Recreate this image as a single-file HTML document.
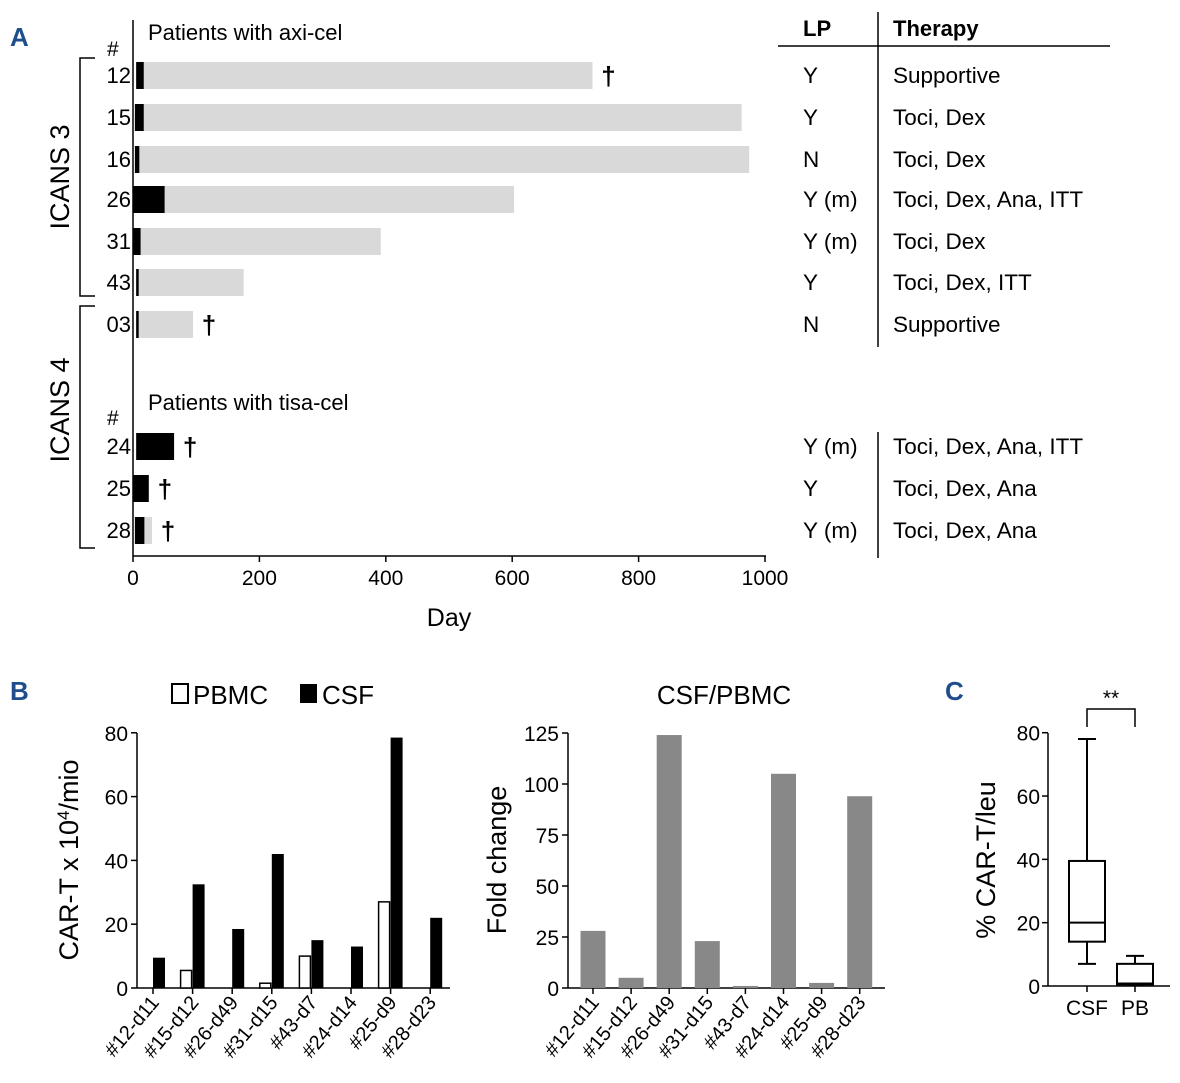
<!DOCTYPE html>
<html><head><meta charset="utf-8"><style>
body{margin:0;background:#fff}
svg{display:block;font-family:"Liberation Sans",sans-serif}
</style></head><body>
<svg id="s" width="1180" height="1083" viewBox="0 0 1180 1083">
<text x="10" y="46" font-size="26" font-weight="bold" fill="#1f4e8c">A</text>
<text x="10" y="700" font-size="26" font-weight="bold" fill="#1f4e8c">B</text>
<text x="945" y="700" font-size="26" font-weight="bold" fill="#1f4e8c">C</text>
<g id="A"></g>
<g id="B1"></g>
<g id="B2"></g>
<g id="C"></g>
</svg>
<script>
// Panel A data
const patients=["12","15","16","26","31","43","03","24","25","28"];
const blackStart=[5,3,3,0,0,5,5,5,0,3];
const blackEnd=[17,17,10,50,12,9,9,65,25,18];
const grayEnd=[727,963,975,603,392,175,95,0,0,30];
const died=[1,0,0,0,0,0,1,1,1,1];
const lpVals=["Y","Y","N","Y (m)","Y (m)","Y","N","Y (m)","Y","Y (m)"];
const therapy=["Supportive","Toci, Dex","Toci, Dex","Toci, Dex, Ana, ITT","Toci, Dex","Toci, Dex, ITT","Supportive","Toci, Dex, Ana, ITT","Toci, Dex, Ana","Toci, Dex, Ana"];
const xTicksA=[0,200,400,600,800,1000];
// Panel B data
const samples=["#12-d11","#15-d12","#26-d49","#31-d15","#43-d7","#24-d14","#25-d9","#28-d23"];
const pbmc=[0,5.5,0,1.5,10,0,27,0];
const csf=[9.5,32.5,18.5,42,15,13,78.5,22];
const foldChange=[28,5,124,23,1,105,2.5,94];
const yTicksB1=[0,20,40,60,80];
const yTicksB2=[0,25,50,75,100,125];
// Panel C data
const boxGroups=["CSF","PB"];
const boxMin=[7,0.5],boxQ1=[14,0.5],boxMed=[20,0.8],boxQ3=[39.5,7],boxMax=[78,9.5];
const yTicksC=[0,20,40,60,80];

const NS="http://www.w3.org/2000/svg";
function mk(p,tag,at,txt){const e=document.createElementNS(NS,tag);for(const k in at)e.setAttribute(k,at[k]);if(txt!==undefined)e.textContent=txt;p.appendChild(e);return e;}

// ---- Panel A
const A=document.getElementById('A');
const ax=v=>133+v*0.632;
const rowY=[75,117,159,199,241,282,324,446,488,530];
mk(A,'line',{x1:133,y1:20,x2:133,y2:556,stroke:'#000','stroke-width':1.5});
mk(A,'line',{x1:133,y1:556,x2:766,y2:556,stroke:'#000','stroke-width':1.5});
xTicksA.forEach(t=>{mk(A,'line',{x1:ax(t),y1:556,x2:ax(t),y2:562,stroke:'#000','stroke-width':1.5});
 const tl=mk(A,'text',{x:ax(t),y:585,'font-size':21,'text-anchor':'middle'},t);
 });
let t=mk(A,'text',{x:449,y:626,'font-size':25,'text-anchor':'middle'},'Day');
t=mk(A,'text',{x:148,y:40,'font-size':22},'Patients with axi-cel');
t=mk(A,'text',{x:148,y:410,'font-size':22},'Patients with tisa-cel');
mk(A,'text',{x:107,y:56,'font-size':21},'#');mk(A,'text',{x:107,y:425,'font-size':21},'#');
patients.forEach((p,i)=>{const y=rowY[i];
 const l=mk(A,'text',{x:131,y:y+8,'font-size':22,'text-anchor':'end'},p);
 if(grayEnd[i]>0){const g=mk(A,'rect',{x:ax(blackStart[i]),y:y-13,width:ax(grayEnd[i])-ax(blackStart[i]),height:27,fill:'#d9d9d9'});}
 const b=mk(A,'rect',{x:ax(blackStart[i]),y:y-13,width:ax(blackEnd[i])-ax(blackStart[i]),height:27,fill:'#000'});
 if(died[i]){const d=mk(A,'text',{x:ax(Math.max(grayEnd[i],blackEnd[i]))+16,y:y+10,'font-size':26,'font-weight':'bold','text-anchor':'middle'},'†');}
 const lp=mk(A,'text',{x:803,y:y+8,'font-size':22.5},lpVals[i]);
 const th=mk(A,'text',{x:893,y:y+8,'font-size':22.5},therapy[i]);
});
t=mk(A,'text',{x:803,y:36,'font-size':22,'font-weight':'bold'},'LP');
t=mk(A,'text',{x:893,y:36,'font-size':22,'font-weight':'bold'},'Therapy');
mk(A,'line',{x1:778,y1:46,x2:1110,y2:46,stroke:'#000','stroke-width':1.5});
mk(A,'line',{x1:878,y1:12,x2:878,y2:347,stroke:'#000','stroke-width':1.5});
mk(A,'line',{x1:878,y1:432,x2:878,y2:558,stroke:'#000','stroke-width':1.5});
mk(A,'path',{d:'M95,58 H80 V296 H95',fill:'none',stroke:'#000','stroke-width':1.5});
mk(A,'path',{d:'M95,306 H80 V548 H95',fill:'none',stroke:'#000','stroke-width':1.5});
t=mk(A,'text',{x:0,y:0,'font-size':27,'text-anchor':'middle',transform:'translate(69,177) rotate(-90)'},'ICANS 3');
t=mk(A,'text',{x:0,y:0,'font-size':27,'text-anchor':'middle',transform:'translate(69,410) rotate(-90)'},'ICANS 4');

// ---- Panel B left
const B1=document.getElementById('B1');
const b1x=i=>153+i*39.6, b1y=v=>988-v*3.19;
mk(B1,'line',{x1:137,y1:733,x2:137,y2:988,stroke:'#000','stroke-width':1.5});
mk(B1,'line',{x1:137,y1:988,x2:450,y2:988,stroke:'#000','stroke-width':1.5});
yTicksB1.forEach(v=>{mk(B1,'line',{x1:131,y1:b1y(v),x2:137,y2:b1y(v),stroke:'#000','stroke-width':1.5});
 const l=mk(B1,'text',{x:128,y:b1y(v)+8,'font-size':21,'text-anchor':'end'},v);});
samples.forEach((s,i)=>{const x=b1x(i);
 mk(B1,'line',{x1:x,y1:988,x2:x,y2:994,stroke:'#000','stroke-width':1.5});
 if(pbmc[i]>0){const r=mk(B1,'rect',{x:x-12,y:b1y(pbmc[i]),width:11,height:988-b1y(pbmc[i]),fill:'#fff',stroke:'#000','stroke-width':1.5});}
 const r=mk(B1,'rect',{x:x,y:b1y(csf[i]),width:12,height:988-b1y(csf[i]),fill:'#000'});
 const l=mk(B1,'text',{x:0,y:0,'font-size':20,'text-anchor':'end',transform:`translate(${x+7},1003) rotate(-50)`},s);
});
t=mk(B1,'text',{x:0,y:0,'font-size':27,'text-anchor':'middle',transform:'translate(78,860) rotate(-90)'});
t.innerHTML='CAR-T x 10<tspan baseline-shift="super" font-size="17">4</tspan>/mio';
mk(B1,'rect',{x:172,y:684,width:16,height:19,fill:'#fff',stroke:'#000','stroke-width':2});
mk(B1,'text',{x:193,y:704,'font-size':26},'PBMC');
mk(B1,'rect',{x:300,y:684,width:17,height:19,fill:'#000'});
mk(B1,'text',{x:322,y:704,'font-size':26},'CSF');

// ---- Panel B right
const B2=document.getElementById('B2');
const b2x=i=>593+i*38.1, b2y=v=>988-v*2.04;
mk(B2,'line',{x1:568,y1:733,x2:568,y2:988,stroke:'#000','stroke-width':1.5});
mk(B2,'line',{x1:568,y1:988,x2:885,y2:988,stroke:'#000','stroke-width':1.5});
yTicksB2.forEach(v=>{mk(B2,'line',{x1:562,y1:b2y(v),x2:568,y2:b2y(v),stroke:'#000','stroke-width':1.5});
 const l=mk(B2,'text',{x:559,y:b2y(v)+8,'font-size':21,'text-anchor':'end'},v);});
samples.forEach((s,i)=>{const x=b2x(i);
 mk(B2,'line',{x1:x,y1:988,x2:x,y2:994,stroke:'#000','stroke-width':1.5});
 const r=mk(B2,'rect',{x:x-12.5,y:b2y(foldChange[i]),width:25,height:988-b2y(foldChange[i]),fill:'#888'});
 const l=mk(B2,'text',{x:0,y:0,'font-size':20,'text-anchor':'end',transform:`translate(${x+7},1003) rotate(-50)`},s);
});
t=mk(B2,'text',{x:0,y:0,'font-size':27,'text-anchor':'middle',transform:'translate(506,860) rotate(-90)'},'Fold change');
t=mk(B2,'text',{x:724,y:704,'font-size':26,'text-anchor':'middle'},'CSF/PBMC');

// ---- Panel C
const C=document.getElementById('C');
const cy=v=>986-v*3.166, cx=[1087,1135];
mk(C,'line',{x1:1048,y1:733,x2:1048,y2:986,stroke:'#000','stroke-width':1.5});
mk(C,'line',{x1:1048,y1:986,x2:1170,y2:986,stroke:'#000','stroke-width':1.5});
yTicksC.forEach(v=>{mk(C,'line',{x1:1042,y1:cy(v),x2:1048,y2:cy(v),stroke:'#000','stroke-width':1.5});
 const l=mk(C,'text',{x:1040,y:cy(v)+8,'font-size':21,'text-anchor':'end'},v);});
boxGroups.forEach((g,i)=>{const x=cx[i];
 mk(C,'line',{x1:x,y1:986,x2:x,y2:992,stroke:'#000','stroke-width':1.5});
 mk(C,'line',{x1:x,y1:cy(boxMax[i]),x2:x,y2:cy(boxMin[i]),stroke:'#000','stroke-width':2});
 mk(C,'line',{x1:x-9,y1:cy(boxMax[i]),x2:x+9,y2:cy(boxMax[i]),stroke:'#000','stroke-width':2});
 mk(C,'line',{x1:x-9,y1:cy(boxMin[i]),x2:x+9,y2:cy(boxMin[i]),stroke:'#000','stroke-width':2});
 const r=mk(C,'rect',{x:x-18,y:cy(boxQ3[i]),width:36,height:cy(boxQ1[i])-cy(boxQ3[i]),fill:'#fff',stroke:'#000','stroke-width':2});
 mk(C,'line',{x1:x-18,y1:cy(boxMed[i]),x2:x+18,y2:cy(boxMed[i]),stroke:'#000','stroke-width':2});
 const l=mk(C,'text',{x:x,y:1015,'font-size':21,'text-anchor':'middle'},g);
});
mk(C,'path',{d:'M1087,727 V709 H1135 V727',fill:'none',stroke:'#000','stroke-width':1.5});
t=mk(C,'text',{x:1111,y:705,'font-size':21,'text-anchor':'middle'},'**');
t=mk(C,'text',{x:0,y:0,'font-size':27,'text-anchor':'middle',transform:'translate(995,860) rotate(-90)'},'% CAR-T/leu');
</script>
</body></html>
